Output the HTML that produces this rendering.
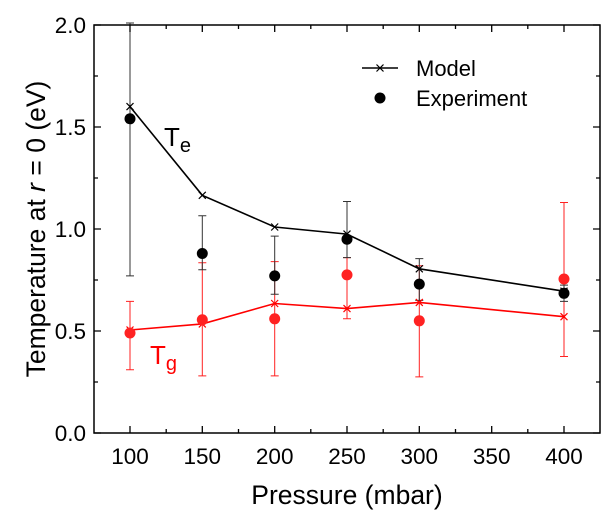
<!DOCTYPE html>
<html><head><meta charset="utf-8"><style>body{margin:0;background:#fff}svg{display:block}</style></head>
<body>
<svg width="615" height="519" viewBox="0 0 615 519" font-family="Liberation Sans, sans-serif">
<defs>
<path id="xm" d="M-3.5,-3.5L3.5,3.5M-3.5,3.5L3.5,-3.5" stroke-width="1.2"/>
</defs>
<g stroke="#f22" stroke-width="1" fill="none">
<path d="M130,369.8V301.4M126,369.8h8M126,301.4h8"/>
<path d="M202.3,375.9V262.7M198.3,375.9h8M198.3,262.7h8"/>
<path d="M274.7,375.9V261.6M270.7,375.9h8M270.7,261.6h8"/>
<path d="M347,318.8V257.6M343,318.8h8M343,257.6h8"/>
<path d="M419.3,376.9V265.7M415.3,376.9h8M415.3,265.7h8"/>
<path d="M564,356.5V202.5M560,356.5h8M560,202.5h8"/>
</g>
<g stroke="#333" stroke-width="1" fill="none">
<path d="M130,275.9V23M126,275.9h8M126,23h8"/>
<path d="M202.3,269.8V215.7M198.3,269.8h8M198.3,215.7h8"/>
<path d="M274.7,294.3V236.1M270.7,294.3h8M270.7,236.1h8"/>
<path d="M347,257.6V201.5M343,257.6h8M343,201.5h8"/>
<path d="M419.3,300.4V258.6M415.3,300.4h8M415.3,258.6h8"/>
<path d="M564,301.4V285.1M560,301.4h8M560,285.1h8"/>
</g>
<polyline fill="none" stroke="#000" stroke-width="1.6" points="130,106.6 202.3,195.3 274.7,227 347,234.1 419.3,268.8 564,291.2"/>
<g stroke="#000"><use href="#xm" x="130" y="106.6"/><use href="#xm" x="202.3" y="195.3"/><use href="#xm" x="274.7" y="227"/><use href="#xm" x="347" y="234.1"/><use href="#xm" x="419.3" y="268.8"/><use href="#xm" x="564" y="291.2"/></g>
<polyline fill="none" stroke="#f00" stroke-width="1.6" points="130,330 202.3,323.9 274.7,303.5 347,308.6 419.3,302.4 564,316.7"/>
<g stroke="#f00"><use href="#xm" x="130" y="330"/><use href="#xm" x="202.3" y="323.9"/><use href="#xm" x="274.7" y="303.5"/><use href="#xm" x="347" y="308.6"/><use href="#xm" x="419.3" y="302.4"/><use href="#xm" x="564" y="316.7"/></g>
<g fill="#000"><circle cx="130" cy="118.8" r="5.5"/><circle cx="202.3" cy="253.5" r="5.5"/><circle cx="274.7" cy="275.9" r="5.5"/><circle cx="347" cy="239.2" r="5.5"/><circle cx="419.3" cy="284.1" r="5.5"/><circle cx="564" cy="293.3" r="5.5"/></g>
<g fill="#f22"><circle cx="130" cy="333" r="5.5"/><circle cx="202.3" cy="319.8" r="5.5"/><circle cx="274.7" cy="318.8" r="5.5"/><circle cx="347" cy="274.9" r="5.5"/><circle cx="419.3" cy="320.8" r="5.5"/><circle cx="564" cy="279" r="5.5"/></g>
<rect x="94" y="25" width="506" height="408" fill="none" stroke="#000" stroke-width="1.5"/>
<g stroke="#000" stroke-width="1.3">
<path d="M130,433v-7M202.3,433v-7M274.7,433v-7M347,433v-7M419.3,433v-7M491.7,433v-7M564,433v-7M166.2,433v-4M238.5,433v-4M310.8,433v-4M383.2,433v-4M455.5,433v-4M527.8,433v-4"/>
<path d="M130,25v7M202.3,25v7M274.7,25v7M347,25v7M419.3,25v7M491.7,25v7M564,25v7M166.2,25v4M238.5,25v4M310.8,25v4M383.2,25v4M455.5,25v4M527.8,25v4"/>
<path d="M94,433h7M94,331h7M94,229h7M94,127h7M94,25h7M94,382h4M94,280h4M94,178h4M94,76h4"/>
<path d="M600,433h-7M600,331h-7M600,229h-7M600,127h-7M600,25h-7M600,382h-4M600,280h-4M600,178h-4M600,76h-4"/>
</g>
<g font-size="22.5" text-anchor="middle">
<text x="130" y="464">100</text><text x="202.3" y="464">150</text><text x="274.7" y="464">200</text><text x="347" y="464">250</text><text x="419.3" y="464">300</text><text x="491.7" y="464">350</text><text x="564" y="464">400</text>
</g>
<g font-size="22.5" text-anchor="end">
<text x="86" y="441">0.0</text><text x="86" y="339">0.5</text><text x="86" y="237">1.0</text><text x="86" y="135">1.5</text><text x="86" y="33">2.0</text>
</g>
<text x="347" y="504" font-size="26.5" text-anchor="middle">Pressure (mbar)</text>
<text transform="translate(45,229) rotate(-90)" font-size="26.5" text-anchor="middle">Temperature at <tspan font-style="italic">r</tspan> = 0 (eV)</text>
<text x="164" y="146" font-size="26">T<tspan font-size="20" dy="6">e</tspan></text>
<text x="150" y="364" font-size="26" fill="#f00">T<tspan font-size="20" dy="6">g</tspan></text>
<path d="M362,68h36" stroke="#000" stroke-width="1.6"/><use href="#xm" x="380" y="68" stroke="#000"/>
<text x="416" y="76" font-size="22">Model</text>
<circle cx="380" cy="98" r="5.5"/><text x="416" y="106" font-size="22">Experiment</text>
</svg>
</body></html>
